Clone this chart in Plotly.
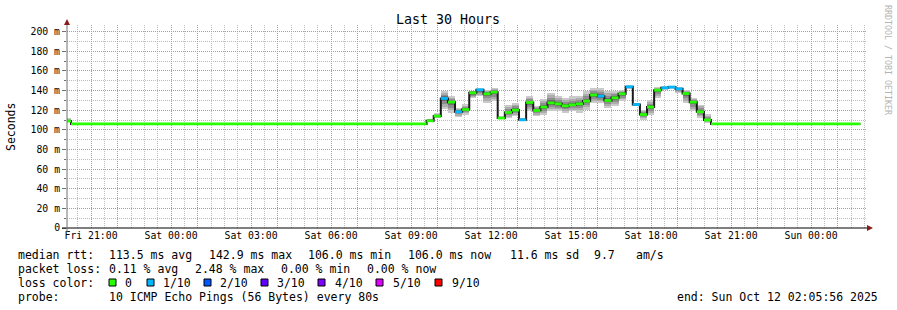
import pandas as pd
import plotly.graph_objects as go

FONT = "DejaVu Sans Mono"

# ---------------- data ----------------
T_START = "2025-10-10 20:05:56"
T_END = "2025-10-12 02:05:56"
DATA_END = "2025-10-12 01:51:00"

# busy period: 16-minute consolidated steps
busy_times = pd.date_range("2025-10-11 09:35:00", periods=40, freq="16min")

busy_median = [109.2, 114.0, 132.0, 128.2, 118.4, 120.7, 137.7, 140.8, 136.7, 138.4,
               112.0, 117.7, 120.1, 110.2, 127.9, 119.7, 123.2, 127.5, 126.5, 124.5,
               125.5, 126.5, 129.3, 135.5, 134.3, 129.9, 132.6, 136.7, 143.8, 125.8,
               115.6, 123.2, 140.4, 142.8, 143.6, 141.8, 137.0, 128.2, 118.4, 110.0]
busy_lo = [108.0, 112.0, 121.0, 117.0, 113.0, 115.6, 132.0, 134.0, 127.5, 129.0,
           111.0, 112.0, 114.0, 108.7, 119.0, 114.0, 115.6, 119.0, 119.0, 117.0,
           119.0, 117.5, 120.7, 127.5, 127.5, 122.4, 124.0, 129.0, 142.0, 124.5,
           110.5, 115.6, 132.6, 141.0, 142.0, 138.0, 127.5, 119.0, 112.0, 107.0]
busy_hi = [111.0, 117.0, 140.0, 134.0, 122.0, 126.0, 140.0, 142.0, 141.0, 143.0,
           114.0, 125.0, 127.5, 112.0, 134.0, 124.0, 131.0, 137.7, 134.0, 132.6,
           134.0, 134.0, 139.5, 142.8, 142.8, 139.5, 139.5, 141.0, 145.0, 127.0,
           120.7, 130.0, 143.5, 144.0, 145.0, 143.0, 141.0, 132.6, 125.8, 116.0]
busy_loss = [0, 0, 1, 0, 1, 0, 0, 1, 0, 0,
             0, 0, 0, 1, 0, 0, 0, 0, 0, 0,
             0, 0, 0, 0, 1, 0, 0, 0, 1, 1,
             0, 0, 0, 1, 1, 1, 0, 0, 0, 0]

seg_start = ([pd.Timestamp(T_START), pd.Timestamp("2025-10-10 20:15:00")]
             + list(busy_times) + [pd.Timestamp("2025-10-11 20:15:00")])
seg_median = [109.0, 106.0] + busy_median + [106.0]
seg_lo = [107.5, 106.0] + busy_lo + [106.0]
seg_hi = [112.0, 106.0] + busy_hi + [106.0]
seg_loss = [0, 0] + busy_loss + [0]
seg_end = seg_start[1:] + [pd.Timestamp(DATA_END)]

loss_colors = {0: "#26ff00", 1: "#00b8ff"}
legend_labels = ["0", "1/10", "2/10", "3/10", "4/10", "5/10", "9/10"]
legend_colors = ["#26ff00", "#00b8ff", "#0059ff", "#5e00ff", "#7e00ff", "#dd00ff", "#ff0000"]

y_tickvals = [0, 20, 40, 60, 80, 100, 120, 140, 160, 180, 200]
y_ticktext = ["0", "20 m", "40 m", "60 m", "80 m", "100 m", "120 m", "140 m",
              "160 m", "180 m", "200 m"]
# major (red) vertical grid hours, with labels on every third hour
x_gridvals = ["2025-10-10 21:00", "2025-10-10 22:00", "2025-10-11 00:00", "2025-10-11 01:00",
              "2025-10-11 03:00", "2025-10-11 04:00", "2025-10-11 06:00", "2025-10-11 07:00",
              "2025-10-11 09:00", "2025-10-11 10:00", "2025-10-11 12:00", "2025-10-11 13:00",
              "2025-10-11 15:00", "2025-10-11 16:00", "2025-10-11 18:00", "2025-10-11 19:00",
              "2025-10-11 21:00", "2025-10-11 22:00", "2025-10-12 00:00", "2025-10-12 01:00"]
x_gridtext = ["Fri 21:00", "", "Sat 00:00", "", "Sat 03:00", "", "Sat 06:00", "",
              "Sat 09:00", "", "Sat 12:00", "", "Sat 15:00", "", "Sat 18:00", "",
              "Sat 21:00", "", "Sun 00:00", ""]

# ---------------- geometry ----------------
W, H = 897, 310
PL, PR, PT, PB = 67, 867, 25, 228
YMAX = 206.8
RED = "#f47c7c"
GREY = "#bcbcbc"
DOT = "1px,1px"


def px(x):
    return (x - PL) / (PR - PL)


def py(y):
    return (PB - y) / (PB - PT)


fig = go.Figure()

# smoke: nested grey bands
centers = [s + (e - s) / 2 for s, e in zip(seg_start, seg_end)]
widths = [(e - s).total_seconds() * 1000 for s, e in zip(seg_start, seg_end)]
for frac, col in [(1.0, "#cacaca"), (0.75, "#adadad"), (0.5, "#8e8e8e"), (0.25, "#6c6c6c")]:
    lo = [m - frac * (m - l) for m, l in zip(seg_median, seg_lo)]
    hi = [m + frac * (h - m) for m, h in zip(seg_median, seg_hi)]
    fig.add_trace(go.Bar(x=centers, base=lo, y=[h - l for h, l in zip(hi, lo)],
                         width=widths, marker=dict(color=col, line=dict(width=0)),
                         hoverinfo="skip", showlegend=False))

# black median step line
fig.add_trace(go.Scatter(x=seg_start + [seg_end[-1]], y=seg_median + [seg_median[-1]],
                         mode="lines", line=dict(shape="hv", color="#1a1a1a", width=2),
                         hoverinfo="skip", showlegend=False))

# coloured median segments by loss
for code, col in loss_colors.items():
    xs, ys = [], []
    for s, e, m, lc in zip(seg_start, seg_end, seg_median, seg_loss):
        if lc == code:
            xs += [s, e, None]
            ys += [m, m, None]
    fig.add_trace(go.Scatter(x=xs, y=ys, mode="lines",
                             line=dict(color=col, width=2.8),
                             hoverinfo="skip", showlegend=False))

shapes = []
# axes lines
shapes.append(dict(type="line", xref="paper", yref="paper", x0=px(62), x1=px(870),
                   y0=0, y1=0, line=dict(color="#000000", width=1)))
shapes.append(dict(type="line", xref="paper", yref="paper", x0=0, x1=0,
                   y0=py(232), y1=py(22), line=dict(color="#707070", width=1)))
# arrows
shapes.append(dict(type="path", xref="paper", yref="paper",
                   path=f"M {px(867)} {py(225)} L {px(873)} {py(228)} L {px(867)} {py(231)} Z",
                   fillcolor="#8b1a1a", line=dict(width=0)))
shapes.append(dict(type="path", xref="paper", yref="paper",
                   path=f"M {px(64)} {py(25)} L {px(67)} {py(19)} L {px(70)} {py(25)} Z",
                   fillcolor="#8b1a1a", line=dict(width=0)))

# legend boxes
box_x = [109, 147, 204, 261, 318, 376, 435]
text_x = [123, 161, 218, 275, 333, 391, 450]
annotations = []
for bx, tx, lab, col in zip(box_x, text_x, legend_labels, legend_colors):
    shapes.append(dict(type="rect", xref="paper", yref="paper", x0=px(bx), x1=px(bx + 7),
                       y0=py(279), y1=py(286), fillcolor=col,
                       line=dict(color="#000000", width=1)))
    annotations.append(dict(x=px(tx), y=py(282.5), text=lab))


def txt(x, y, s):
    annotations.append(dict(x=px(x), y=py(y), text=s))


txt(16, 255, "median rtt:")
txt(107, 255, "113.5 ms avg")
txt(207, 255, "142.9 ms max")
txt(306, 255, "106.0 ms min")
txt(406, 255, "106.0 ms now")
txt(508, 255, "11.6 ms sd")
txt(592, 255, "9.7")
txt(634, 255, "am/s")
txt(16, 268.5, "packet loss:")
txt(107, 268.5, "0.11 % avg")
txt(193, 268.5, "2.48 % max")
txt(279, 268.5, "0.00 % min")
txt(365, 268.5, "0.00 % now")
txt(16, 282.5, "loss color:")
txt(16, 296.5, "probe:")
txt(107, 296.5, "10 ICMP Echo Pings (56 Bytes) every 80s")

for a in annotations:
    a.update(xref="paper", yref="paper", xanchor="left", yanchor="middle",
             showarrow=False, font=dict(family=FONT, size=11.5, color="#000000"))

annotations.append(dict(xref="paper", yref="paper", x=px(880), y=py(296.5),
                        text="end: Sun Oct 12 02:05:56 2025", showarrow=False,
                        xanchor="right", yanchor="middle",
                        font=dict(family=FONT, size=11.5, color="#000000")))
annotations.append(dict(xref="paper", yref="paper", x=px(448), y=py(19.5), text="Last 30 Hours",
                        showarrow=False, xanchor="center", yanchor="middle",
                        font=dict(family=FONT, size=13.3, color="#000000")))
annotations.append(dict(xref="paper", yref="paper", x=px(11), y=py(127), text="Seconds",
                        showarrow=False, xanchor="center", yanchor="middle", textangle=-90,
                        font=dict(family=FONT, size=11.5, color="#000000")))
annotations.append(dict(xref="paper", yref="paper", x=px(888), y=py(60),
                        text="RRDTOOL / TOBI OETIKER",
                        showarrow=False, xanchor="center", yanchor="middle", textangle=90,
                        font=dict(family=FONT, size=8.3, color="#b4b4b4")))

fig.update_layout(
    width=W, height=H,
    margin=dict(l=PL, r=W - PR, t=PT, b=H - PB),
    paper_bgcolor="#ffffff", plot_bgcolor="#ffffff",
    barmode="overlay", bargap=0, showlegend=False,
    shapes=shapes, annotations=annotations,
    xaxis=dict(type="date", range=[T_START, T_END], zeroline=False, showline=False,
               tickmode="array", tickvals=x_gridvals, ticktext=x_gridtext, ticks="",
               showgrid=True, gridcolor=RED, gridwidth=1, griddash=DOT,
               minor=dict(tick0="2025-10-10 20:30", dtick=1800000, showgrid=True,
                          gridcolor=GREY, gridwidth=1, griddash=DOT, ticks=""),
               tickfont=dict(family=FONT, size=9.8, color="#000000")),
    yaxis=dict(range=[0, YMAX], zeroline=False, showline=False,
               tickmode="array", tickvals=y_tickvals, ticktext=y_ticktext,
               ticks="outside", ticklen=4, tickcolor="#707070",
               showgrid=True, gridcolor=RED, gridwidth=1, griddash=DOT,
               tickfont=dict(family=FONT, size=9.8, color="#000000"),
               minor=dict(dtick=10, ticks="outside", ticklen=2, tickcolor="#707070",
                          showgrid=True, gridcolor=GREY, gridwidth=1, griddash=DOT)),
)

fig.write_html("out.html")
